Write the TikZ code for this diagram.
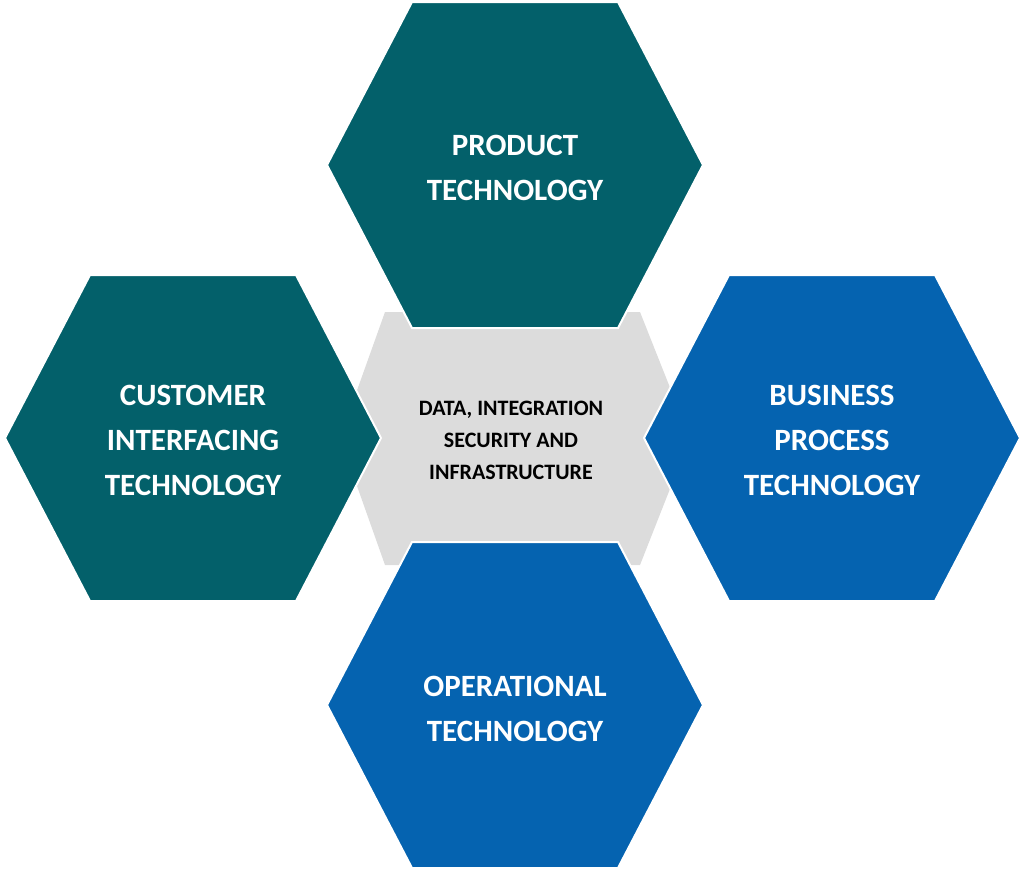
\documentclass[tikz,border=0pt]{standalone}
\usepackage{fontspec}
\setmainfont{Carlito}
\definecolor{teal1}{HTML}{03606A}
\definecolor{blue1}{HTML}{0563B0}
\definecolor{grey1}{HTML}{DCDCDC}
\begin{document}
\begin{tikzpicture}[x=1pt,y=-1pt,
  hex/.style={draw=white,line width=2pt},
  lbl/.style={text=white,font=\bfseries\fontsize{31}{45}\selectfont,align=center},
  clbl/.style={text=black,font=\bfseries\fontsize{22}{32}\selectfont,align=center}]
\useasboundingbox (0,0) rectangle (1024,873);
\def\hexa#1#2#3{\fill[#3,hex] (#1-188,#2) -- (#1-103,#2-163) -- (#1+103,#2-163) -- (#1+188,#2) -- (#1+103,#2+163) -- (#1-103,#2+163) -- cycle;}
\fill[grey1] (340,438) -- (385,312) -- (640,312) -- (690,438) -- (640,565) -- (385,565) -- cycle;
\hexa{515}{165}{teal1}
\hexa{193}{438}{teal1}
\hexa{832}{438}{blue1}
\hexa{515}{705}{blue1}
\node[lbl] (p) at (515,168) {PRODUCT\\TECHNOLOGY};
\node[lbl] (c) at (193,440) {CUSTOMER\\INTERFACING\\TECHNOLOGY};
\node[lbl] (b) at (832,440) {BUSINESS\\PROCESS\\TECHNOLOGY};
\node[lbl] (o) at (515,709) {OPERATIONAL\\TECHNOLOGY};
\node[clbl] (d) at (511,440) {DATA, INTEGRATION\\SECURITY AND\\INFRASTRUCTURE};
\end{tikzpicture}
\end{document}
